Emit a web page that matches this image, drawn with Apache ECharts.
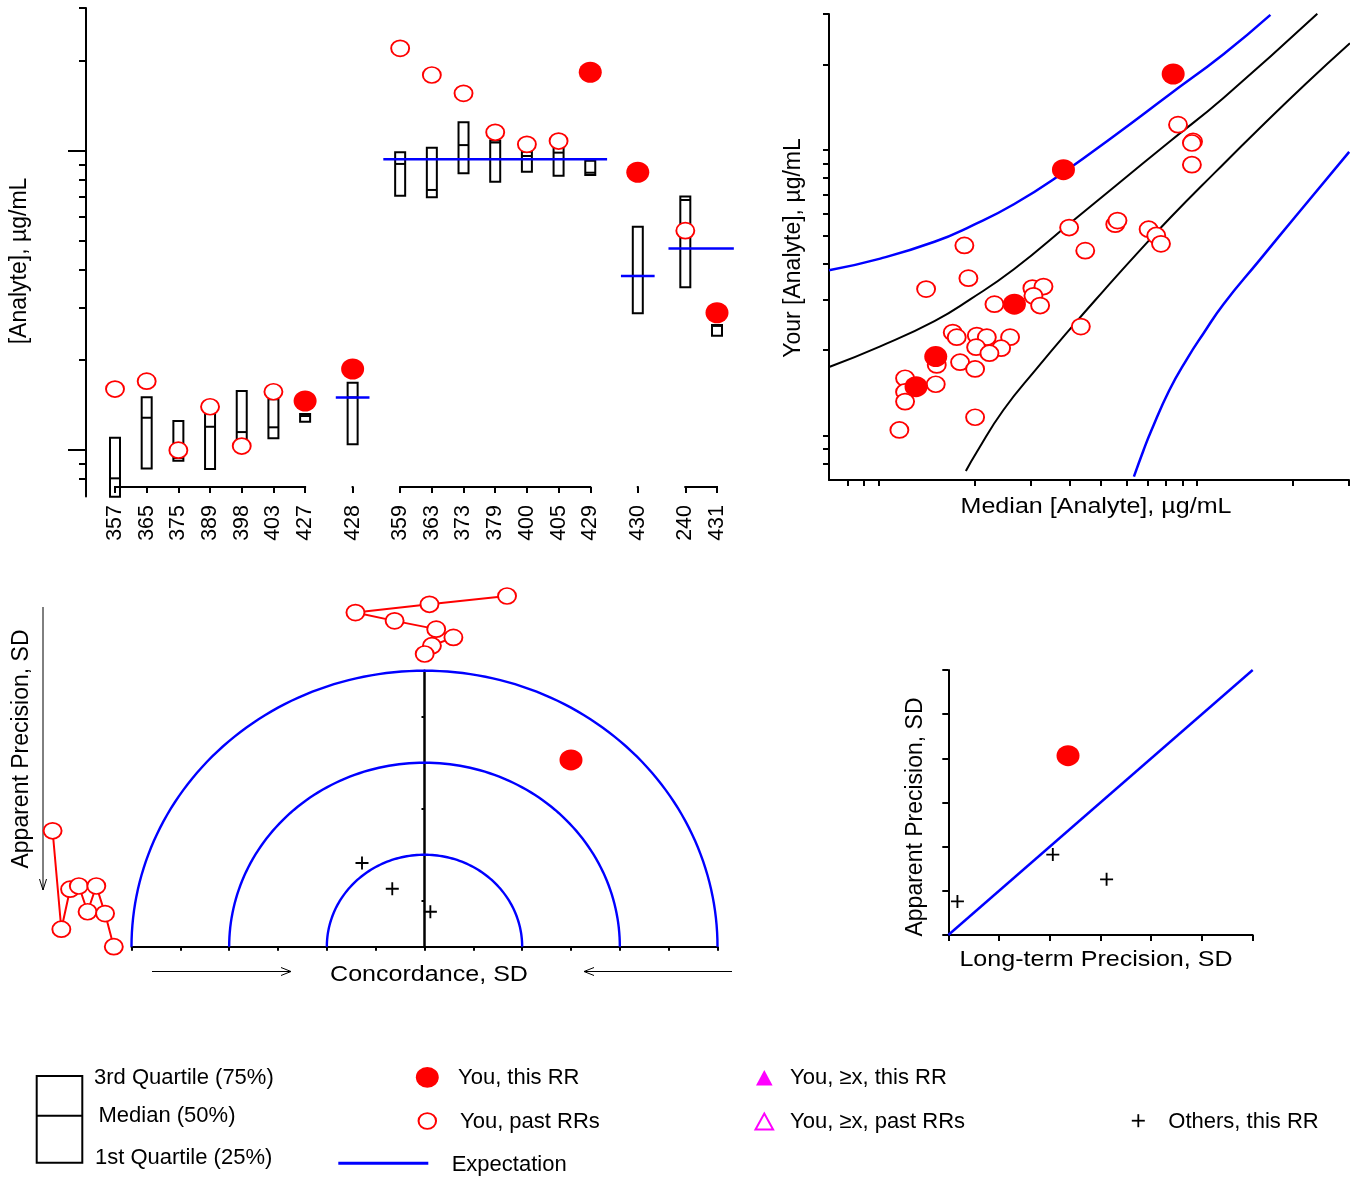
<!DOCTYPE html>
<html>
<head>
<meta charset="utf-8">
<title>Analyte proficiency summary</title>
<script src="https://cdn.jsdelivr.net/npm/echarts@6/dist/echarts.min.js"></script>
<style>
  html, body { margin: 0; padding: 0; background: #ffffff; }
  #chart { width: 1356px; height: 1177px; }
</style>
</head>
<body>
<div id="chart"></div>
<script>
// ---------- Panel A: distribution of results per sample ----------
const sampleGroups = [
  ['357', '365', '375', '389', '398', '403', '427'],
  ['428'],
  ['359', '363', '373', '379', '400', '405', '429'],
  ['430'],
  ['240', '431']
];
// quartiles, in the order of the flattened sample groups (µg/mL)
const quartile1 = [0.699, 0.869, 0.922, 0.865, 1.087, 1.095, 1.244, 1.046, 7.08, 6.99, 8.41, 7.88, 8.52, 8.26, 8.30, 2.865, 3.50, 2.41];
const medians   = [0.805, 1.283, 0.941, 1.197, 1.149, 1.192, 1.300, 1.500, 9.04, 7.40, 10.45, 10.66, 9.61, 9.86, 8.45, 3.82, 6.85, 2.60];
const quartile3 = [1.100, 1.501, 1.251, 1.344, 1.576, 1.478, 1.320, 1.680, 9.89, 10.24, 12.46, 10.82, 9.93, 10.32, 9.27, 5.58, 7.03, 2.62];
const youThisRR  = [null, null, null, null, null, null, 1.459, 1.866, null, null, null, null, null, null, 18.3, 8.48, null, 2.878];
const youPastRRs = [1.60, 1.70, 1.00, 1.396, 1.032, 1.567, null, null, 22.0, 17.92, 15.56, 11.53, 10.51, 10.78, null, null, 5.41, null];
const groupExpectation = [null, 1.50, 9.37, 3.82, 4.72];

// log-axis tick values shared by the concentration axes
const logMinorTicks = [0.8, 0.9, 2, 3, 4, 5, 6, 7, 8, 9, 20, 30];
const logMajorTicks = [1, 10];
const logAllTicks   = [0.8, 0.9, 1, 2, 3, 4, 5, 6, 7, 8, 9, 10, 20, 30];

// ---------- Panel B: your result against the median ----------
const pastMedian = [8.72, 9.72, 9.64, 9.64, 3.97, 5.54, 5.63, 7.05, 7.45, 7.71, 4.46, 1.862, 1.917, 1.412, 3.044, 3.298, 3.067, 3.219, 2.314,
  4.32, 1.712, 1.762, 2.037, 2.190, 2.591, 2.027, 2.428, 2.232, 1.805, 2.012, 1.525, 1.514, 1.213, 1.213, 1.213, 2.012, 1.164];
const pastYours  = [12.29, 10.74, 10.60, 8.90, 5.36, 5.51, 5.67, 5.29, 5.03, 4.70, 4.45, 4.64, 3.565, 3.263, 3.289, 3.331, 3.090, 2.858, 2.890,
  2.412, 2.299, 2.215, 2.244, 2.215, 2.215, 2.043, 2.026, 1.946, 1.810, 1.714, 1.771, 1.515, 1.590, 1.424, 1.317, 1.161, 1.048];
const thisMedian = [1.313, 1.514, 8.42, 3.81, 2.673];
const thisYours  = [1.486, 1.894, 18.49, 8.55, 2.890];
// acceptance curves [median, result]
const expectUpper = [[0.70, 3.797], [1.014, 4.173], [1.500, 4.779], [1.947, 5.416], [2.663, 6.468], [3.840, 8.41], [5.534, 11.29], [8.18, 15.65], [12.11, 21.70], [17.00, 29.80]];
const expectLower = [[6.34, 0.719], [6.80, 0.892], [7.18, 1.039], [8.18, 1.441], [9.33, 1.868], [10.49, 2.287], [12.11, 2.890], [15.72, 4.123], [20.41, 5.875], [30.04, 9.87]];
const limitUpper  = [[0.704, 1.745], [1.014, 2.057], [1.500, 2.522], [1.947, 3.011], [2.663, 3.828], [4.047, 5.616], [5.534, 7.478], [8.18, 10.69], [12.11, 15.25], [23.86, 30.05]];
const limitLower  = [[1.882, 0.753], [2.037, 0.878], [2.469, 1.231], [3.143, 1.721], [4.000, 2.368], [5.089, 3.218], [6.479, 4.345], [8.244, 5.800],
  [11.42, 8.380], [15.81, 12.01], [21.88, 17.03], [30.2, 23.70]];

// ---------- Panels C and D: concordance and precision (SD units) ----------
const bandRadii = [1, 2, 3];
const youConcordance = [1.50];
const youApparent    = [2.03];
const youLongTerm    = [1.18];
const othersConcordance = [-0.64, -0.33, 0.06];
const othersApparent    = [0.91, 0.63, 0.38];
const othersLongTerm    = [1.03, 1.56, 0.09];
const pastConcordance = [0.845, 0.051, -0.707, -0.306, 0.120, 0.296, 0.076, 0.002];
const pastApparent    = [1.26, 0.19, 0.625, 0.66, 0.38, 0.66, 0.36, 0.0];
const precisionExpectation = [[0, 0], [3, 3]];

// ---------- styling ----------
const FONT = '"Liberation Sans", Arial, Helvetica, sans-serif';
const RED = '#ff0000', BLUE = '#0000ff', MAGENTA = '#ff00ff', BLACK = '#000000';
const PLUS = 'path://M6,0H8V6H14V8H8V14H6V8H0V6H6Z';
const openMark = { color: '#ffffff', borderColor: RED, borderWidth: 1.8, opacity: 1 };
const fillMark = { color: RED, opacity: 1 };
const plusMark = { color: BLACK, opacity: 1 };
const CURVE_SMOOTH = 0.5;

// slot layout of the sample axis: one blank between samples, two between groups
const slotLabels = [];
const sampleSlot = [];
const groupFirst = [], groupLast = [];
sampleGroups.forEach((group, gi) => {
  if (gi > 0) slotLabels.push('', '');
  group.forEach((name, si) => {
    if (si > 0) slotLabels.push('');
    if (si === 0) groupFirst.push(slotLabels.length);
    groupLast[gi] = slotLabels.length;
    sampleSlot.push(slotLabels.length);
    slotLabels.push(name);
  });
});

const boxData = sampleSlot.map((s, i) => [s, quartile1[i], medians[i], quartile3[i]]);
const pastA = sampleSlot.map((s, i) => youPastRRs[i] == null ? null : [s, youPastRRs[i]]).filter(Boolean);
const thisA = sampleSlot.map((s, i) => youThisRR[i] == null ? null : [s, youThisRR[i]]).filter(Boolean);
const expectData = groupExpectation.map((v, gi) => v == null ? null : [groupFirst[gi], groupLast[gi], v]).filter(Boolean);
const segmentData = sampleGroups.map((g, gi) => [groupFirst[gi], groupLast[gi]]);

function renderBox(params, api) {
  const x = api.value(0);
  const lo = api.coord([x, api.value(1)]);
  const md = api.coord([x, api.value(2)]);
  const hi = api.coord([x, api.value(3)]);
  const w = 10;
  return {
    type: 'group',
    children: [
      { type: 'rect', shape: { x: lo[0] - w / 2, y: hi[1], width: w, height: lo[1] - hi[1] },
        style: { fill: 'none', stroke: BLACK, lineWidth: 2 } },
      { type: 'line', shape: { x1: lo[0] - w / 2, y1: md[1], x2: lo[0] + w / 2, y2: md[1] },
        style: { stroke: BLACK, lineWidth: 2 } }
    ]
  };
}

function renderExpectation(params, api) {
  const a = api.coord([api.value(0), api.value(2)]);
  const b = api.coord([api.value(1), api.value(2)]);
  const ext = api.size([1, 0])[0] + 1;
  return { type: 'line', shape: { x1: a[0] - ext, y1: a[1], x2: b[0] + ext, y2: b[1] },
    style: { stroke: BLUE, lineWidth: 2.5 } };
}

function renderSegment(params, api) {
  const a = api.coord([api.value(0), 1]);
  const b = api.coord([api.value(1), 1]);
  const y = params.coordSys.y + params.coordSys.height - 9.5;
  return { type: 'line', shape: { x1: a[0] - 1, y1: y, x2: b[0] + 1, y2: y },
    style: { stroke: BLACK, lineWidth: 2 } };
}

function renderBand(params, api) {
  const r = api.value(0);
  const pts = [];
  for (let i = 0; i <= 120; i++) {
    const t = Math.PI * i / 120;
    pts.push(api.coord([r * Math.cos(t), r * Math.sin(t)]));
  }
  return { type: 'polyline', shape: { points: pts }, style: { stroke: BLUE, lineWidth: 2.4, fill: 'none' } };
}

function logAxis(gridIndex, extra) {
  return Object.assign({
    gridIndex, type: 'log', logBase: 10, min: 0.7, max: 30,
    axisLine: { show: true, lineStyle: { color: BLACK, width: 2 } },
    axisTick: { show: true, customValues: logAllTicks, length: 6, lineStyle: { color: BLACK, width: 2 } },
    axisLabel: { show: false },
    splitLine: { show: false },
    minorTick: { show: false }
  }, extra);
}

function sdAxis(gridIndex, min, extra) {
  return Object.assign({
    gridIndex, type: 'value', min: min, max: 3, interval: 0.5,
    axisLine: { show: true, lineStyle: { color: BLACK, width: 2 } },
    axisTick: { show: true, length: 5, lineStyle: { color: BLACK, width: 2 } },
    axisLabel: { show: false },
    splitLine: { show: false }
  }, extra);
}

function hiddenAxis(gridIndex, min, max, extra) {
  return Object.assign({ gridIndex, type: 'value', min, max, show: false, splitLine: { show: false } }, extra);
}

function titleText(text, x, y, vertical, size, sx) {
  return {
    type: 'text', x, y, rotation: vertical ? Math.PI / 2 : 0, scaleX: sx || 1,
    style: { text, fontSize: size, fontFamily: FONT, fill: BLACK, align: 'center', verticalAlign: 'middle' }
  };
}

function legendText(text, x, y) {
  return { type: 'text', x, y, style: { text, fontSize: 22, fontFamily: FONT, fill: BLACK, align: 'left', verticalAlign: 'middle' } };
}

const graphics = [
  // axis titles
  titleText('[Analyte], µg/mL', 20, 261, true, 23),
  titleText('Your [Analyte], µg/mL', 794, 248, true, 23),
  titleText('Median [Analyte], µg/mL', 1096, 507, false, 22, 1.14),
  titleText('Apparent Precision, SD', 22, 749, true, 23),
  titleText('Concordance, SD', 429, 975, false, 22, 1.14),
  titleText('Apparent Precision, SD', 916, 817, true, 23),
  titleText('Long-term Precision, SD', 1096, 960, false, 22, 1.14),
  // direction arrows of the concordance plot
  { type: 'line', shape: { x1: 43, y1: 607, x2: 43, y2: 890 }, style: { stroke: BLACK, lineWidth: 1 } },
  { type: 'polyline', shape: { points: [[39.5, 879], [43, 890], [46.5, 879]] }, style: { stroke: BLACK, lineWidth: 1, fill: 'none' } },
  { type: 'line', shape: { x1: 152, y1: 971.5, x2: 291, y2: 971.5 }, style: { stroke: BLACK, lineWidth: 1 } },
  { type: 'polyline', shape: { points: [[281, 967.5], [291, 971.5], [281, 975.5]] }, style: { stroke: BLACK, lineWidth: 1, fill: 'none' } },
  { type: 'line', shape: { x1: 732, y1: 971.5, x2: 584, y2: 971.5 }, style: { stroke: BLACK, lineWidth: 1 } },
  { type: 'polyline', shape: { points: [[594, 967.5], [584, 971.5], [594, 975.5]] }, style: { stroke: BLACK, lineWidth: 1, fill: 'none' } },
  // key
  { type: 'rect', shape: { x: 36.7, y: 1076, width: 45.6, height: 86.7 }, style: { fill: 'none', stroke: BLACK, lineWidth: 2 } },
  { type: 'line', shape: { x1: 36.7, y1: 1115.7, x2: 82.3, y2: 1115.7 }, style: { stroke: BLACK, lineWidth: 2 } },
  legendText('3rd Quartile (75%)', 94, 1077.5),
  legendText('Median (50%)', 98.5, 1116),
  legendText('1st Quartile (25%)', 95, 1157.5),
  { type: 'circle', x: 427.3, y: 1077.3, scaleX: 1.1, shape: { cx: 0, cy: 0, r: 10.4 }, style: { fill: RED } },
  legendText('You, this RR', 458, 1077.5),
  { type: 'circle', x: 427.3, y: 1121, scaleX: 1.12, shape: { cx: 0, cy: 0, r: 7.8 }, style: { fill: '#ffffff', stroke: RED, lineWidth: 1.8 } },
  legendText('You, past RRs', 460, 1121.5),
  { type: 'line', shape: { x1: 338.3, y1: 1163.3, x2: 428.3, y2: 1163.3 }, style: { stroke: BLUE, lineWidth: 3 } },
  legendText('Expectation', 451.7, 1164.5),
  { type: 'polygon', shape: { points: [[756, 1085.5], [772.6, 1085.5], [764.3, 1070]] }, style: { fill: MAGENTA } },
  legendText('You, \u2265x, this RR', 790, 1077.5),
  { type: 'polygon', shape: { points: [[755.5, 1129.5], [773.1, 1129.5], [764.3, 1113.5]] }, style: { fill: 'none', stroke: MAGENTA, lineWidth: 2 } },
  legendText('You, \u2265x, past RRs', 790, 1121.5),
  { type: 'line', shape: { x1: 1131.8, y1: 1120.7, x2: 1144.8, y2: 1120.7 }, style: { stroke: BLACK, lineWidth: 1.8 } },
  { type: 'line', shape: { x1: 1138.3, y1: 1114.2, x2: 1138.3, y2: 1127.2 }, style: { stroke: BLACK, lineWidth: 1.8 } },
  legendText('Others, this RR', 1168.3, 1121.5)
];

const option = {
  animation: false,
  backgroundColor: '#ffffff',
  textStyle: { fontFamily: FONT },
  grid: [
    { left: 115, top: 8, width: 602, height: 488.5 },
    { left: 829, top: 14, width: 520, height: 466 },
    { left: 131.5, top: 670.7, width: 586, height: 276 },
    { left: 131.5, top: 596, width: 586, height: 58 },
    { left: 52.6, top: 670.7, width: 61.2, height: 276 },
    { left: 948.3, top: 670, width: 304.4, height: 265 }
  ].map(g => Object.assign({ containLabel: false, outerBoundsMode: 'none', show: false }, g)),
  xAxis: [
    {
      gridIndex: 0, type: 'category', data: slotLabels, boundaryGap: false, offset: -9.5,
      axisLine: { show: false },
      axisTick: { show: true, interval: (idx, val) => val !== '', length: 6, lineStyle: { color: BLACK, width: 2 } },
      axisLabel: { interval: 0, rotate: 90, margin: 18, fontSize: 21.5, fontFamily: FONT, color: BLACK },
      splitLine: { show: false }
    },
    logAxis(1, {}),
    sdAxis(2, -3, { axisTick: { show: true, length: 4, lineStyle: { color: BLACK, width: 2 } } }),
    hiddenAxis(3, -3, 3),
    hiddenAxis(4, 0, 7),
    sdAxis(5, 0, { axisTick: { show: true, length: 6, lineStyle: { color: BLACK, width: 2 } } })
  ],
  yAxis: [
    logAxis(0, { position: 'left', offset: 29, axisTick: { show: true, customValues: logMinorTicks, length: 7, lineStyle: { color: BLACK, width: 2 } } }),
    logAxis(0, { position: 'left', offset: 29, axisLine: { show: false }, axisTick: { show: true, customValues: logMajorTicks, length: 18, lineStyle: { color: BLACK, width: 2 } } }),
    logAxis(1, { position: 'left' }),
    sdAxis(2, 0, { axisLine: { show: true, onZero: true, lineStyle: { color: BLACK, width: 2.5 } }, axisTick: { show: true, length: 3, lineStyle: { color: BLACK, width: 2 } } }),
    hiddenAxis(3, 0, 7, { inverse: true }),
    hiddenAxis(4, 0, 3),
    sdAxis(5, 0, { position: 'left', axisTick: { show: true, length: 6, lineStyle: { color: BLACK, width: 2 } } })
  ],
  series: [
    // ----- Panel A -----
    { type: 'custom', name: 'Quartiles', xAxisIndex: 0, yAxisIndex: 0, renderItem: renderBox,
      data: boxData, encode: { x: 0, y: [1, 2, 3] }, silent: true, z: 2 },
    { type: 'custom', name: 'Sample axis', xAxisIndex: 0, yAxisIndex: 0, renderItem: renderSegment,
      data: segmentData, encode: { x: [0, 1] }, silent: true, z: 2 },
    { type: 'custom', name: 'Expectation', xAxisIndex: 0, yAxisIndex: 0, renderItem: renderExpectation,
      data: expectData, encode: { x: [0, 1], y: 2 }, silent: true, z: 3 },
    { type: 'scatter', name: 'You, past RRs', xAxisIndex: 0, yAxisIndex: 0, data: pastA,
      symbol: 'circle', symbolSize: [18, 16], itemStyle: openMark, silent: true, z: 4 },
    { type: 'scatter', name: 'You, this RR', xAxisIndex: 0, yAxisIndex: 0, data: thisA,
      symbol: 'circle', symbolSize: [23, 21], itemStyle: fillMark, silent: true, z: 5 },

    // ----- Panel B -----
    { type: 'line', name: 'Expectation upper', xAxisIndex: 1, yAxisIndex: 2, data: expectUpper, smooth: CURVE_SMOOTH,
      symbol: 'none', lineStyle: { color: BLUE, width: 2.5 }, silent: true, z: 2 },
    { type: 'line', name: 'Expectation lower', xAxisIndex: 1, yAxisIndex: 2, data: expectLower, smooth: CURVE_SMOOTH,
      symbol: 'none', lineStyle: { color: BLUE, width: 2.5 }, silent: true, z: 2 },
    { type: 'line', name: 'Limit upper', xAxisIndex: 1, yAxisIndex: 2, data: limitUpper, smooth: CURVE_SMOOTH,
      symbol: 'none', lineStyle: { color: BLACK, width: 2 }, silent: true, z: 2 },
    { type: 'line', name: 'Limit lower', xAxisIndex: 1, yAxisIndex: 2, data: limitLower, smooth: CURVE_SMOOTH,
      symbol: 'none', lineStyle: { color: BLACK, width: 2 }, silent: true, z: 2 },
    { type: 'scatter', name: 'You, past RRs', xAxisIndex: 1, yAxisIndex: 2,
      data: pastMedian.map((m, i) => [m, pastYours[i]]),
      symbol: 'circle', symbolSize: [18, 16], itemStyle: openMark, silent: true, z: 4 },
    { type: 'scatter', name: 'You, this RR', xAxisIndex: 1, yAxisIndex: 2,
      data: thisMedian.map((m, i) => [m, thisYours[i]]),
      symbol: 'circle', symbolSize: [23, 21], itemStyle: fillMark, silent: true, z: 5 },

    // ----- Panel C -----
    { type: 'custom', name: 'SD bands', xAxisIndex: 2, yAxisIndex: 3, renderItem: renderBand,
      data: bandRadii.map(r => [r, 0]), encode: { x: 0, y: 1 }, silent: true, z: 2 },
    { type: 'scatter', name: 'Others, this RR', xAxisIndex: 2, yAxisIndex: 3,
      data: othersConcordance.map((c, i) => [c, othersApparent[i]]),
      symbol: PLUS, symbolSize: 13, itemStyle: plusMark, silent: true, z: 4 },
    { type: 'scatter', name: 'You, this RR', xAxisIndex: 2, yAxisIndex: 3,
      data: youConcordance.map((c, i) => [c, youApparent[i]]),
      symbol: 'circle', symbolSize: [23, 21], itemStyle: fillMark, silent: true, z: 5 },
    { type: 'line', name: 'Past concordance', xAxisIndex: 3, yAxisIndex: 4, clip: false,
      data: pastConcordance.map((c, i) => [c, i]),
      symbol: 'circle', symbolSize: [18, 16], showSymbol: true, itemStyle: openMark,
      lineStyle: { color: RED, width: 2 }, silent: true, z: 4 },
    { type: 'line', name: 'Past apparent precision', xAxisIndex: 4, yAxisIndex: 5, clip: false,
      data: pastApparent.map((a, i) => [i, a]),
      symbol: 'circle', symbolSize: [18, 16], showSymbol: true, itemStyle: openMark,
      lineStyle: { color: RED, width: 2 }, silent: true, z: 4 },

    // ----- Panel D -----
    { type: 'line', name: 'Expectation', xAxisIndex: 5, yAxisIndex: 6, data: precisionExpectation,
      symbol: 'none', lineStyle: { color: BLUE, width: 2.4 }, silent: true, z: 2 },
    { type: 'scatter', name: 'Others, this RR', xAxisIndex: 5, yAxisIndex: 6,
      data: othersLongTerm.map((l, i) => [l, othersApparent[i]]),
      symbol: PLUS, symbolSize: 13, itemStyle: plusMark, silent: true, z: 4 },
    { type: 'scatter', name: 'You, this RR', xAxisIndex: 5, yAxisIndex: 6,
      data: youLongTerm.map((l, i) => [l, youApparent[i]]),
      symbol: 'circle', symbolSize: [23, 21], itemStyle: fillMark, silent: true, z: 5 }
  ],
  graphic: { elements: graphics }
};

const chart = echarts.init(document.getElementById('chart'), null, { renderer: 'canvas', width: 1356, height: 1177 });
chart.setOption(option);
</script>
</body>
</html>
